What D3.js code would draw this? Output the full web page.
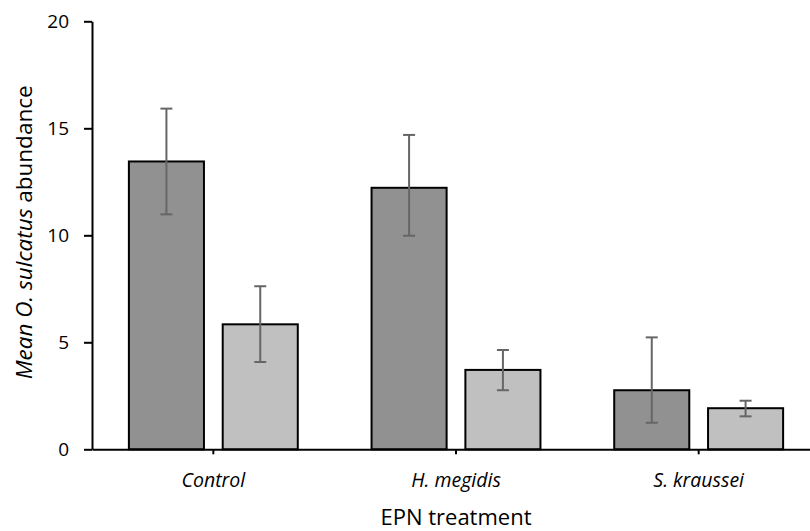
<!DOCTYPE html>
<html>
<head>
<meta charset="utf-8">
<script src="https://cdn.jsdelivr.net/npm/d3@7"></script>
<style>
  body { margin: 0; background: #fff; }
  svg text { font-family: "Open Sans", sans-serif; fill: #000; }
</style>
</head>
<body>
<div id="chart"></div>
<script>
// values
var categories = ["Control", "H. megidis", "S. kraussei"];
var seriesNames = ["series1", "series2"];
var series1Mean = [13.45, 12.22, 2.76];
var series1ErrUp = [2.47, 2.47, 2.47];
var series1ErrDown = [2.47, 2.24, 1.52];
var series2Mean = [5.84, 3.71, 1.92];
var series2ErrUp = [1.78, 0.93, 0.35];
var series2ErrDown = [1.76, 0.95, 0.38];
var yTicks = [0, 5, 10, 15, 20];

var margin = {top: 21.3, left: 92},
    width = 728,
    height = 428;

var svg = d3.select("#chart").append("svg")
    .attr("width", 810)
    .attr("height", 531);

var g = svg.append("g")
    .attr("transform", "translate(" + margin.left + "," + margin.top + ")");

var x0 = d3.scaleBand()
  .domain(categories)
  .range([0, width])
  .padding(0);

//inner scale for the two bars of a group
var x1 = d3.scaleBand()
  .domain(seriesNames)
  .range([x0.bandwidth() * 0.152, x0.bandwidth() * 0.848])
  .paddingInner(0.2);

var y = d3.scaleLinear()
  .domain([0, 20])
  .range([height, 0]);

var colors = {series1: "#919191", series2: "#c0c0c0"};

var rows = [];
categories.forEach(function(c, i) {
  rows.push({cat: c, s: "series1", v: series1Mean[i], up: series1ErrUp[i], down: series1ErrDown[i]});
  rows.push({cat: c, s: "series2", v: series2Mean[i], up: series2ErrUp[i], down: series2ErrDown[i]});
});

// bars
g.selectAll(".bar")
  .data(rows)
  .enter().append("rect")
  .attr("class", "bar")
  .attr("x", function(d) { return x0(d.cat) + x1(d.s); })
  .attr("y", function(d) { return y(d.v); })
  .attr("width", x1.bandwidth())
  .attr("height", function(d) { return height - y(d.v); })
  .style("fill", function(d) { return colors[d.s]; })
  .style("stroke", "#000")
  .style("stroke-width", 2);

// error bars
var cap = 6;
var err = g.selectAll(".err")
  .data(rows)
  .enter().append("g")
  .attr("class", "err")
  .attr("transform", function(d) { return "translate(" + (x0(d.cat) + x1(d.s) + x1.bandwidth() / 2) + ",0)"; })
  .style("stroke", "#666")
  .style("stroke-width", 2);

err.append("line")
  .attr("y1", function(d) { return y(d.v - d.down); })
  .attr("y2", function(d) { return y(d.v + d.up); });
err.append("line")
  .attr("x1", -cap).attr("x2", cap)
  .attr("y1", function(d) { return y(d.v + d.up); })
  .attr("y2", function(d) { return y(d.v + d.up); });
err.append("line")
  .attr("x1", -cap).attr("x2", cap)
  .attr("y1", function(d) { return y(d.v - d.down); })
  .attr("y2", function(d) { return y(d.v - d.down); });

// axes
var yAxis = d3.axisLeft(y).tickValues(yTicks).tickSize(8).tickSizeOuter(0).tickPadding(15);
var xAxis = d3.axisBottom(x0).tickSize(5).tickSizeOuter(0).tickPadding(19);

var gy = g.append("g").attr("class", "y axis").call(yAxis);
gy.selectAll("text").style("font-size", "19px");

var gx = g.append("g")
  .attr("class", "x axis")
  .attr("transform", "translate(0," + height + ")")
  .call(xAxis);
gx.selectAll("text").style("font-size", "19.5px").style("font-style", "italic");

g.selectAll(".axis path, .axis line")
  .style("stroke", "#000")
  .style("stroke-width", 2);

// x title
svg.append("text")
  .attr("x", margin.left + width / 2)
  .attr("y", 524.5)
  .attr("text-anchor", "middle")
  .style("font-size", "22px")
  .text("EPN treatment");

// y title, mixed italic
var yt = svg.append("text")
  .attr("transform", "translate(32," + (margin.top + height / 2 - 3) + ") rotate(-90)")
  .attr("text-anchor", "middle")
  .style("font-size", "22.5px");
yt.append("tspan").style("font-style", "italic").text("Mean O. sulcatus");
yt.append("tspan").text(" abundance");
</script>
</body>
</html>
